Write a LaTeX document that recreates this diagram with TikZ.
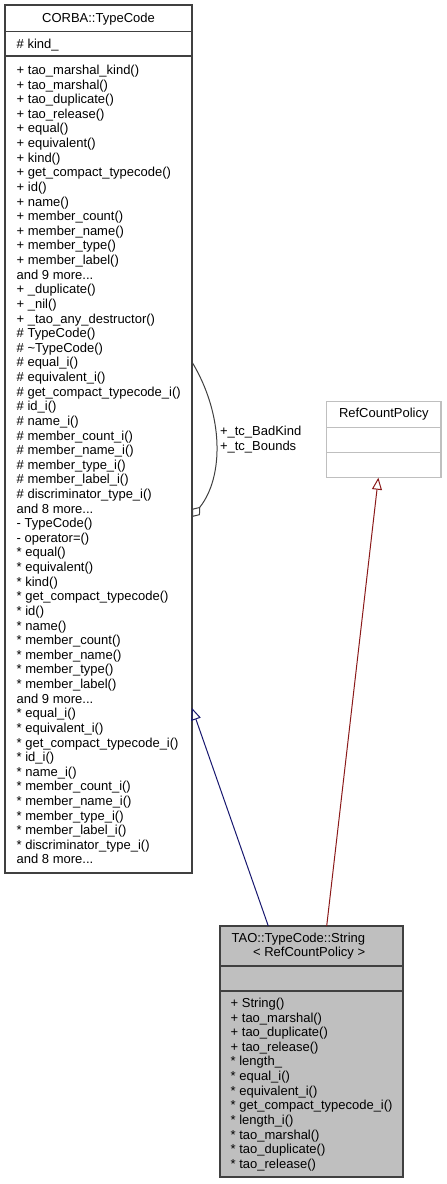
\documentclass[tikz,border=0pt]{standalone}
\usepackage{fontspec}
\setmainfont{Liberation Sans}
\usetikzlibrary{arrows.meta}
\definecolor{boxline}{HTML}{404040}
\definecolor{boxfill}{HTML}{BFBFBF}
\definecolor{lightline}{HTML}{BFBFBF}
\definecolor{navyline}{HTML}{191970}
\definecolor{redline}{HTML}{8B1A1A}
\newcommand{\umlfont}{\fontsize{13}{14.62}\selectfont}
\newcommand{\st}{{*}}
\begin{document}
\begin{tikzpicture}[x=1pt,y=-1pt,
  classbox/.style={draw=boxline, line width=1.2pt, inner sep=0pt, outer sep=0pt, anchor=north west},
  sep/.style={draw=boxline, line width=1.2pt},
  lightsep/.style={draw=lightline, line width=1.2pt},
  txt/.style={inner sep=0pt, outer sep=0pt, font=\umlfont, anchor=base west},
  ctxt/.style={inner sep=0pt, outer sep=0pt, font=\umlfont, anchor=base},
  inherit/.style={line width=1pt, -{Triangle[open,length=12pt,width=10pt]}},
  usage/.style={draw=boxline, line width=1pt, -{Diamond[open,length=13pt,width=10pt]}}]
\useasboundingbox (0,0) rectangle (447,1184);

% CORBA::TypeCode
\node[classbox, fill=white, minimum width=187pt, minimum height=868pt] (tc) at (5,5) {};
\draw[sep] (5,31.5) -- (192,31.5);
\draw[sep] (5,56) -- (192,56);
\node[ctxt] (tctitle) at (98.5,22.5) {CORBA::TypeCode};
\node[txt] (tcattr) at (16.7,48) {\# kind\_};
\node[txt] (tcmeth) at (16.7,74.5) {\begin{tabular}[t]{@{}l@{}}
+ tao\_marshal\_kind()\\
+ tao\_marshal()\\
+ tao\_duplicate()\\
+ tao\_release()\\
+ equal()\\
+ equivalent()\\
+ kind()\\
+ get\_compact\_typecode()\\
+ id()\\
+ name()\\
+ member\_count()\\
+ member\_name()\\
+ member\_type()\\
+ member\_label()\\
and 9 more...\\
+ \_duplicate()\\
+ \_nil()\\
+ \_tao\_any\_destructor()\\
\# TypeCode()\\
\# \textasciitilde TypeCode()\\
\# equal\_i()\\
\# equivalent\_i()\\
\# get\_compact\_typecode\_i()\\
\# id\_i()\\
\# name\_i()\\
\# member\_count\_i()\\
\# member\_name\_i()\\
\# member\_type\_i()\\
\# member\_label\_i()\\
\# discriminator\_type\_i()\\
and 8 more...\\
- TypeCode()\\
- operator=()\\
\st\ equal()\\
\st\ equivalent()\\
\st\ kind()\\
\st\ get\_compact\_typecode()\\
\st\ id()\\
\st\ name()\\
\st\ member\_count()\\
\st\ member\_name()\\
\st\ member\_type()\\
\st\ member\_label()\\
and 9 more...\\
\st\ equal\_i()\\
\st\ equivalent\_i()\\
\st\ get\_compact\_typecode\_i()\\
\st\ id\_i()\\
\st\ name\_i()\\
\st\ member\_count\_i()\\
\st\ member\_name\_i()\\
\st\ member\_type\_i()\\
\st\ member\_label\_i()\\
\st\ discriminator\_type\_i()\\
and 8 more...
\end{tabular}};

% RefCountPolicy
\node[classbox, draw=lightline, fill=white, minimum width=114.3pt, minimum height=76pt] (rcp) at (326.7,401.7) {};
\draw[lightsep] (326.7,427.3) -- (441,427.3);
\draw[lightsep] (326.7,452.7) -- (441,452.7);
\node[ctxt] (rcptitle) at (383.8,417.5) {RefCountPolicy};

% TAO::TypeCode::String
\node[classbox, fill=boxfill, minimum width=183pt, minimum height=251pt] (tao) at (220,926) {};
\draw[sep] (220,966) -- (403,966);
\draw[sep] (220,991) -- (403,991);
\node[txt] (taotitle) at (231.7,942.3) {\begin{tabular}[t]{@{}r@{}}
TAO::TypeCode::String\\
< RefCountPolicy >
\end{tabular}};
\node[txt] (taometh) at (230.7,1007.5) {\begin{tabular}[t]{@{}l@{}}
+ String()\\
+ tao\_marshal()\\
+ tao\_duplicate()\\
+ tao\_release()\\
\st\ length\_\\
\st\ equal\_i()\\
\st\ equivalent\_i()\\
\st\ get\_compact\_typecode\_i()\\
\st\ length\_i()\\
\st\ tao\_marshal()\\
\st\ tao\_duplicate()\\
\st\ tao\_release()
\end{tabular}};

% connectors
\draw[inherit, navyline] ([xshift=48.3pt]tao.north west) -- ([yshift=-269pt]tc.east);
\draw[inherit, redline] ([xshift=106.7pt]tao.north west) -- ([xshift=-5.5pt]rcp.south);
\draw[usage] ([yshift=77pt]tc.east) .. controls (224,415) and (224,477) .. ([yshift=-78pt]tc.east);
\node[txt] (loopl) at (220,435.5) {\begin{tabular}[t]{@{}l@{}}
+\_tc\_BadKind\\
+\_tc\_Bounds
\end{tabular}};
\end{tikzpicture}
\end{document}
